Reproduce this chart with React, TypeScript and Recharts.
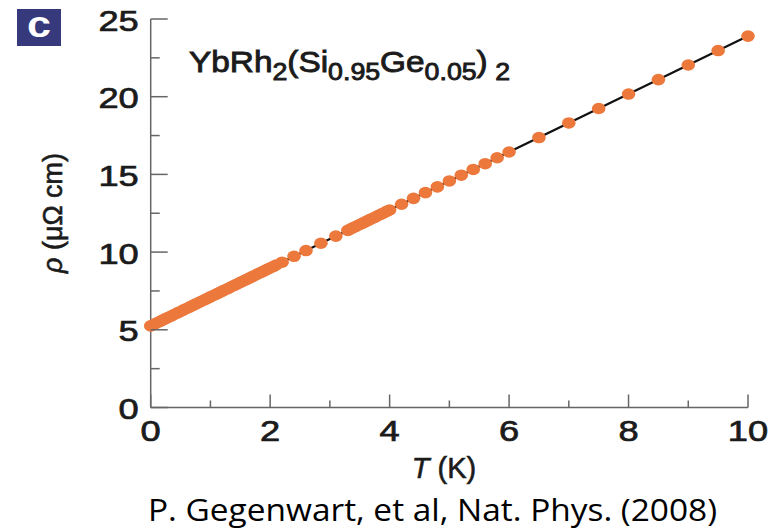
import { ScatterChart, Scatter, XAxis, YAxis } from "recharts";

// rho(T), T in K, rho in micro-ohm cm
const TEMPS = [
  0.0, 0.05, 0.1, 0.15, 0.2, 0.25, 0.3, 0.35, 0.4, 0.45, 0.5, 0.55, 0.6, 0.65, 0.7, 0.75,
  0.8, 0.85, 0.9, 0.95, 1.0, 1.05, 1.1, 1.15, 1.2, 1.25, 1.3, 1.35, 1.4, 1.45, 1.5, 1.55,
  1.6, 1.65, 1.7, 1.75, 1.8, 1.85, 1.9, 1.95, 2.0, 2.05, 2.1,
  2.2, 2.4, 2.6, 2.85, 3.1,
  3.3, 3.35, 3.4, 3.45, 3.5, 3.55, 3.6, 3.65, 3.7, 3.75, 3.8, 3.85, 3.9, 3.95, 4.0,
  4.2, 4.4, 4.6, 4.8, 5.0, 5.2, 5.4, 5.6, 5.8, 6.0,
  6.5, 7.0, 7.5, 8.0, 8.5, 9.0, 9.5, 10.0,
];
const RHO = [
  5.25, 5.34, 5.44, 5.53, 5.62, 5.72, 5.81, 5.9, 6.0, 6.09, 6.18, 6.28, 6.37, 6.46, 6.56, 6.65,
  6.74, 6.84, 6.93, 7.02, 7.12, 7.21, 7.3, 7.39, 7.49, 7.58, 7.67, 7.77, 7.86, 7.95, 8.05, 8.14,
  8.23, 8.33, 8.42, 8.51, 8.61, 8.7, 8.79, 8.89, 8.98, 9.07, 9.17,
  9.35, 9.73, 10.1, 10.57, 11.03,
  11.4, 11.5, 11.59, 11.68, 11.78, 11.87, 11.96, 12.06, 12.15, 12.24, 12.34, 12.43, 12.52, 12.62, 12.71,
  13.08, 13.46, 13.83, 14.2, 14.58, 14.95, 15.32, 15.69, 16.07, 16.44,
  17.37, 18.31, 19.24, 20.17, 21.1, 22.04, 22.97, 23.9,
];

// linear fit drawn under the points
const FIT_T = [0, 10];
const FIT_RHO = [5.25, 23.9];

const X_TICKS = [0, 1, 2, 3, 4, 5, 6, 7, 8, 9, 10];
const Y_TICKS = [0, 2.5, 5, 7.5, 10, 12.5, 15, 17.5, 20, 22.5, 25];

const ORANGE = "#ec783c";
const AXIS = "#666";
const INK = "#1b1b1b";
const TICK_FONT = "'Liberation Sans', Arial, sans-serif";

const points = TEMPS.map((t, i) => ({ T: t, rho: RHO[i] }));
const fit = FIT_T.map((t, i) => ({ T: t, rho: FIT_RHO[i] }));

function XTick(props: any) {
  const { x, y, payload } = props;
  const v = payload.value as number;
  const major = v % 2 === 0;
  return (
    <g>
      <line x1={x} y1={y} x2={x} y2={y - (major ? 13 : 7)} stroke={AXIS} strokeWidth={1.5} />
      {major && (
        <text
          transform={`translate(${x},${y + 33.5}) scale(1.25,1)`}
          textAnchor="middle"
          fontFamily={TICK_FONT}
          fontSize={29}
          fill={INK}
          stroke={INK}
          strokeWidth={0.7}
        >
          {v}
        </text>
      )}
    </g>
  );
}

function YTick(props: any) {
  const { x, y, payload } = props;
  const v = payload.value as number;
  const major = v % 5 === 0;
  return (
    <g>
      <line x1={x} y1={y} x2={x + (major ? 17 : 9)} y2={y} stroke={AXIS} strokeWidth={1.5} />
      {major && (
        <text
          transform={`translate(${x - 12},${y + 11.5}) scale(1.25,1)`}
          textAnchor="end"
          fontFamily={TICK_FONT}
          fontSize={29}
          fill={INK}
          stroke={INK}
          strokeWidth={0.7}
        >
          {v}
        </text>
      )}
    </g>
  );
}

function Dot(props: any) {
  const { cx, cy } = props;
  if (cx == null || cy == null) return null;
  return <ellipse cx={cx} cy={cy} rx={6.8} ry={5.8} fill={ORANGE} />;
}

export default function App() {
  return (
    <div style={{ position: "absolute", left: 0, top: 0, width: 783, height: 532, background: "#fff" }}>
      <ScatterChart
        width={783}
        height={532}
        margin={{ top: 19, right: 35, bottom: 64.5, left: 50.7 }}
      >
        <XAxis
          type="number"
          dataKey="T"
          domain={[0, 10]}
          ticks={X_TICKS}
          interval={0}
          height={60}
          tickSize={0}
          tickMargin={0}
          tickLine={false}
          tick={<XTick />}
          axisLine={{ stroke: AXIS, strokeWidth: 1.5 }}
        />
        <XAxis
          xAxisId="top"
          orientation="top"
          type="number"
          domain={[0, 10]}
          height={0}
          tick={false}
          tickLine={false}
          axisLine={{ stroke: AXIS, strokeWidth: 1.5 }}
        />
        <YAxis
          type="number"
          dataKey="rho"
          domain={[0, 25]}
          ticks={Y_TICKS}
          interval={0}
          width={100}
          tickSize={0}
          tickMargin={0}
          tickLine={false}
          tick={<YTick />}
          axisLine={{ stroke: AXIS, strokeWidth: 1.5 }}
        />
        <YAxis
          yAxisId="right"
          orientation="right"
          type="number"
          domain={[0, 25]}
          width={0}
          tick={false}
          tickLine={false}
          axisLine={{ stroke: AXIS, strokeWidth: 1.5 }}
        />
        <Scatter
          data={fit}
          line={{ stroke: "#111", strokeWidth: 2.2 }}
          shape={() => null}
          isAnimationActive={false}
        />
        <Scatter data={points} shape={<Dot />} isAnimationActive={false} />
      </ScatterChart>

      {/* panel letter, formula, axis titles and source line */}
      <svg
        width={783}
        height={532}
        style={{ position: "absolute", left: 0, top: 0, pointerEvents: "none" }}
      >
        <rect x={17} y={9} width={44} height={37} fill="#36397b" />
        <text
          x={39}
          y={37}
          textAnchor="middle"
          fontFamily={TICK_FONT}
          fontWeight="bold"
          fontSize={36}
          fill="#fff"
          textLength={24}
          lengthAdjust="spacingAndGlyphs"
        >
          c
        </text>

        <text
          x={189}
          y={72}
          fontFamily={TICK_FONT}
          fontSize={30}
          fill={INK}
          stroke={INK}
          strokeWidth={0.9}
          textLength={321}
          lengthAdjust="spacingAndGlyphs"
        >
          YbRh
          <tspan fontSize={24} dy={8}>2</tspan>
          <tspan dy={-8}>(Si</tspan>
          <tspan fontSize={24} dy={8}>0.95</tspan>
          <tspan dy={-8}>Ge</tspan>
          <tspan fontSize={24} dy={8}>0.05</tspan>
          <tspan dy={-8}>)</tspan>
          <tspan fontSize={24} dy={8}> 2</tspan>
        </text>

        <text
          transform="translate(62,213) rotate(-90)"
          textAnchor="middle"
          fontFamily={TICK_FONT}
          fontSize={27}
          fill={INK}
          stroke={INK}
          strokeWidth={0.6}
          textLength={120}
          lengthAdjust="spacingAndGlyphs"
        >
          <tspan fontStyle="italic">ρ</tspan> (μΩ cm)
        </text>

        <text
          x={444}
          y={478}
          textAnchor="middle"
          fontFamily={TICK_FONT}
          fontSize={29}
          fill={INK}
          stroke={INK}
          strokeWidth={0.6}
        >
          <tspan fontStyle="italic">T</tspan> (K)
        </text>

        <text
          x={148}
          y={521}
          fontFamily="'Open Sans', sans-serif"
          fontSize={31}
          fill="#000"
          textLength={569}
          lengthAdjust="spacingAndGlyphs"
        >
          P. Gegenwart, et al,  Nat. Phys. (2008)
        </text>
      </svg>
    </div>
  );
}
